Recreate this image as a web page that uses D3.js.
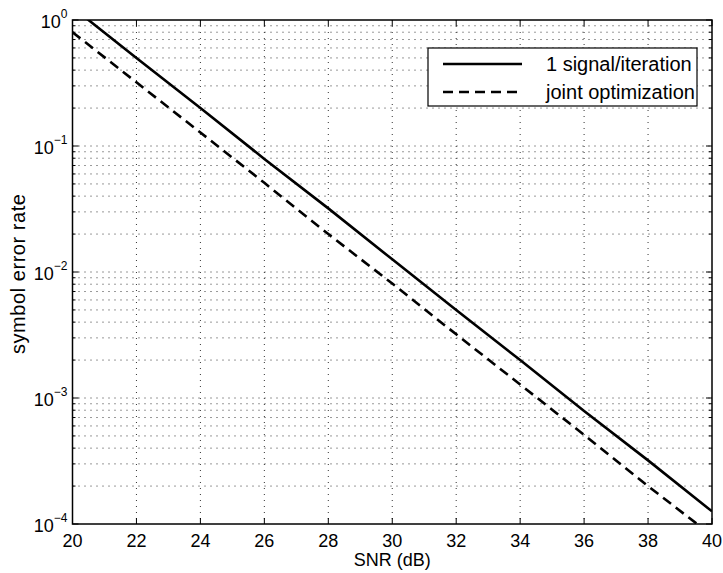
<html>
<head>
    <meta charset="utf-8" />
    <title>SER vs SNR</title>
    <script src="https://d3js.org/d3.v7.min.js"></script>
    <style>
        body {
            margin: 0;
            background: #fff;
            font-family: "Liberation Sans", Arial, Helvetica, sans-serif;
        }

        .grids line {
            stroke: #333;
            stroke-dasharray: 1, 5;
            stroke-width: 1;
        }
    </style>
</head>
<body>
    <svg id="chart" width="723" height="573"></svg>
    <script>
        // values
        const snr = [20, 22, 24, 26, 28, 30, 32, 34, 36, 38, 40]
        const serSingle = [1.26, 0.50, 0.20, 0.079, 0.032, 0.0126, 0.0050, 0.0020, 0.00079, 0.00032, 0.000126]
        const serJoint = [0.80, 0.32, 0.128, 0.051, 0.020, 0.0081, 0.0032, 0.00128, 0.00051, 0.00020, 0.000081]
        const xTicks = [20, 22, 24, 26, 28, 30, 32, 34, 36, 38, 40]
        const yDecades = [0, -1, -2, -3, -4]
        const seriesNames = ["1 signal/iteration", "joint optimization"]

        const svg = d3.select("svg#chart")
        const margin = { left: 72.5, right: 11, top: 20, bottom: 49 }
        const width = +svg.attr("width")
        const height = +svg.attr("height")
        const plotW = width - margin.left - margin.right
        const plotH = height - margin.top - margin.bottom

        const x = d3.scaleLinear().domain([20, 40]).range([margin.left, margin.left + plotW])
        const y = d3.scaleLog().domain([1e-4, 1]).range([margin.top + plotH, margin.top])

        // minor log positions
        const yMinor = []
        for (let e = -4; e < 0; e++) {
            for (let m = 2; m <= 9; m++) yMinor.push(m * Math.pow(10, e))
        }
        const yMajor = yDecades.map(e => Math.pow(10, e))

        // grid
        const grids = svg.append("g").attr("class", "grids")
        grids.selectAll("line.gx").data(xTicks.slice(1, -1)).join("line")
            .attr("x1", d => x(d)).attr("x2", d => x(d))
            .attr("y1", margin.top).attr("y2", margin.top + plotH)
        grids.selectAll("line.gy").data(yMinor.concat(yMajor.slice(1, -1))).join("line")
            .attr("x1", margin.left).attr("x2", margin.left + plotW)
            .attr("y1", d => y(d)).attr("y2", d => y(d))

        // lines
        svg.append("clipPath").attr("id", "clip").append("rect")
            .attr("x", margin.left).attr("y", margin.top)
            .attr("width", plotW).attr("height", plotH)

        const lineGen = vals => d3.line().x((d, i) => x(snr[i])).y(d => y(d))(vals)
        const series = [
            { vals: serSingle, dash: null },
            { vals: serJoint, dash: "10,6" }
        ]
        svg.append("g").attr("clip-path", "url(#clip)")
            .selectAll("path").data(series).join("path")
            .attr("d", d => lineGen(d.vals))
            .attr("fill", "none")
            .attr("stroke", "#000")
            .attr("stroke-width", 2.6)
            .attr("stroke-dasharray", d => d.dash)

        // axes box
        const frame = svg.append("g")
        frame.append("rect")
            .attr("x", margin.left).attr("y", margin.top)
            .attr("width", plotW).attr("height", plotH)
            .attr("fill", "none").attr("stroke", "#000").attr("stroke-width", 1.5)

        // x ticks (bottom and top, inward)
        const xt = frame.selectAll("g.xt").data(xTicks).join("g").attr("class", "xt")
        xt.append("line")
            .attr("x1", d => x(d)).attr("x2", d => x(d))
            .attr("y1", margin.top + plotH).attr("y2", margin.top + plotH - 6)
            .attr("stroke", "#000")
        xt.append("line")
            .attr("x1", d => x(d)).attr("x2", d => x(d))
            .attr("y1", margin.top).attr("y2", margin.top + 6)
            .attr("stroke", "#000")
        xt.append("text")
            .attr("x", d => x(d)).attr("y", margin.top + plotH + 23)
            .attr("text-anchor", "middle")
            .attr("font-size", 18)
            .text(d => d)

        // y ticks (left and right, inward)
        const yt = frame.selectAll("g.yt").data(yMajor).join("g").attr("class", "yt")
        yt.append("line")
            .attr("x1", margin.left).attr("x2", margin.left + 6)
            .attr("y1", d => y(d)).attr("y2", d => y(d)).attr("stroke", "#000")
        yt.append("line")
            .attr("x1", margin.left + plotW).attr("x2", margin.left + plotW - 6)
            .attr("y1", d => y(d)).attr("y2", d => y(d)).attr("stroke", "#000")
        const ytm = frame.selectAll("g.ytm").data(yMinor).join("g").attr("class", "ytm")
        ytm.append("line")
            .attr("x1", margin.left).attr("x2", margin.left + 3)
            .attr("y1", d => y(d)).attr("y2", d => y(d)).attr("stroke", "#000")
        ytm.append("line")
            .attr("x1", margin.left + plotW).attr("x2", margin.left + plotW - 3)
            .attr("y1", d => y(d)).attr("y2", d => y(d)).attr("stroke", "#000")

        const yLab = frame.selectAll("text.ylab").data(yDecades).join("text").attr("class", "ylab")
            .attr("x", margin.left - 5)
            .attr("y", d => y(Math.pow(10, d)) + 8)
            .attr("text-anchor", "end")
            .attr("font-size", 18)
        yLab.append("tspan").text("10")
        yLab.append("tspan").attr("dy", -10).attr("font-size", 12)
            .text(d => d === 0 ? "0" : "\u2212" + (-d))

        // axis titles
        svg.append("text")
            .attr("x", margin.left + plotW / 2).attr("y", 566)
            .attr("text-anchor", "middle").attr("font-size", 18)
            .text("SNR (dB)")
        svg.append("text")
            .attr("transform", `translate(25, ${margin.top + plotH / 2 + 2}) rotate(-90)`)
            .attr("text-anchor", "middle").attr("font-size", 20)
            .attr("textLength", 160).attr("lengthAdjust", "spacing")
            .text("symbol error rate")

        // legend
        const legend = svg.append("g").attr("transform", "translate(428, 48)")
        legend.append("rect").attr("width", 269).attr("height", 58)
            .attr("fill", "#fff").attr("stroke", "#000").attr("stroke-width", 1.2)
        const items = legend.selectAll("g.item").data(seriesNames).join("g").attr("class", "item")
            .attr("transform", (d, i) => `translate(0, ${16 + i * 28})`)
        items.append("line")
            .attr("x1", 15).attr("x2", 94).attr("y1", 0).attr("y2", 0)
            .attr("stroke", "#000").attr("stroke-width", 2.6)
            .attr("stroke-dasharray", (d, i) => series[i].dash)
        items.append("text")
            .attr("x", 118).attr("y", 7)
            .attr("font-size", 20)
            .text(d => d)
    </script>
</body>
</html>
